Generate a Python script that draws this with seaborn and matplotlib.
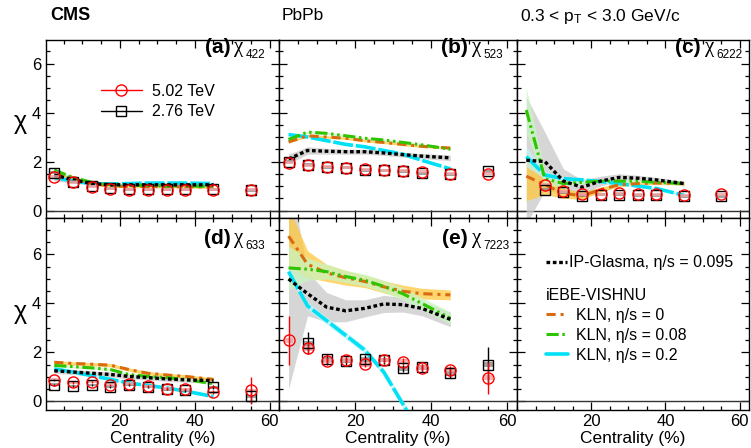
import numpy as np
import pandas as pd
import matplotlib
matplotlib.use("Agg")
import matplotlib.pyplot as plt
from matplotlib.lines import Line2D
from matplotlib.ticker import MultipleLocator, FixedLocator
import seaborn as sns

sns.set_style("ticks")
plt.rcParams["font.family"] = ["Liberation Sans", "DejaVu Sans"]
plt.rcParams["mathtext.fontset"] = "custom"
plt.rcParams["mathtext.rm"] = "Liberation Sans"
plt.rcParams["mathtext.it"] = "Liberation Sans:italic"
plt.rcParams["mathtext.bf"] = "Liberation Sans:bold"
plt.rcParams["text.color"] = "black"
plt.rcParams["axes.labelcolor"] = "black"
plt.rcParams["legend.labelcolor"] = "black"

# ---------------- data ----------------
cent = [2.5, 7.5, 12.5, 17.5, 22.5, 27.5, 32.5, 37.5, 45, 55]
cent_c = [7.5, 12.5, 17.5, 22.5, 27.5, 32.5, 37.5, 45, 55]
cent_model = [2.5, 7.5, 12.5, 17.5, 22.5, 27.5, 32.5, 37.5, 45]

# (a) chi_422
a_502 = [1.37, 1.15, 0.97, 0.88, 0.85, 0.85, 0.85, 0.85, 0.85, 0.85]
a_276 = [1.55, 1.18, 1.0, 0.9, 0.87, 0.87, 0.87, 0.87, 0.86, 0.83]
a_ip = [1.45, 1.25, 1.1, 1.05, 1.05, 1.05, 1.05, 1.05, 1.05]
a_ip_band = [0.25, 0.12, 0.06, 0.04, 0.04, 0.04, 0.04, 0.04, 0.04]
a_kln0 = [1.55, 1.3, 1.1, 1.0, 0.98, 0.98, 0.97, 0.97, 0.95]
a_kln008 = [1.65, 1.35, 1.15, 1.05, 1.03, 1.02, 1.0, 1.0, 0.98]
a_kln02 = [1.35, 1.2, 1.1, 1.08, 1.1, 1.12, 1.12, 1.12, 1.1]

# (b) chi_523
b_502 = [1.95, 1.85, 1.78, 1.75, 1.68, 1.65, 1.63, 1.58, 1.5, 1.5]
b_276 = [2.0, 1.86, 1.77, 1.75, 1.65, 1.65, 1.6, 1.52, 1.47, 1.6]
b_ip = [2.1, 2.45, 2.42, 2.4, 2.4, 2.35, 2.28, 2.22, 2.15]
b_ip_band = [0.2, 0.15, 0.12, 0.1, 0.1, 0.1, 0.1, 0.1, 0.12]
b_kln0 = [2.8, 3.05, 3.0, 2.95, 2.85, 2.78, 2.7, 2.62, 2.55]
b_kln008 = [2.9, 3.2, 3.15, 3.05, 2.95, 2.88, 2.78, 2.68, 2.5]
b_kln02 = [3.1, 3.0, 2.85, 2.7, 2.6, 2.45, 2.3, 2.05, 1.7]

# (c) chi_6222
c_502 = [1.05, 0.78, 0.67, 0.67, 0.7, 0.67, 0.67, 0.63, 0.67]
c_276 = [0.85, 0.75, 0.6, 0.65, 0.65, 0.62, 0.62, 0.58, 0.58]
c_ip = [2.05, 2.0, 1.2, 0.95, 1.2, 1.35, 1.32, 1.25, 1.1]
c_ip_band = [2.6, 1.2, 0.5, 0.3, 0.2, 0.15, 0.12, 0.1, 0.1]
c_kln0 = [1.4, 1.05, 0.7, 0.6, 0.85, 1.05, 1.1, 1.12, 1.1]
c_kln0_band = [1.0, 0.4, 0.2, 0.15, 0.1, 0.08, 0.06, 0.06, 0.06]
c_kln008 = [4.1, 1.3, 1.1, 1.15, 1.2, 1.2, 1.2, 1.15, 1.1]
c_kln008_band = [0.9, 0.3, 0.1, 0.08, 0.06, 0.06, 0.06, 0.06, 0.06]
c_kln02 = [2.2, 1.45, 1.3, 1.25, 1.18, 1.1, 1.0, 0.9, 0.62]
c_kln02_band = [0.4, 0.15, 0.05, 0.05, 0.05, 0.05, 0.05, 0.05, 0.05]

# (d) chi_633
d_502 = [0.88, 0.78, 0.8, 0.68, 0.72, 0.62, 0.52, 0.5, 0.37, 0.45]
d_276 = [0.68, 0.63, 0.67, 0.6, 0.67, 0.6, 0.5, 0.45, 0.58, 0.22]
d_502_err = [0.05, 0.05, 0.05, 0.05, 0.05, 0.05, 0.05, 0.05, 0.08, 0.55]
d_276_err = [0.05, 0.05, 0.05, 0.05, 0.05, 0.05, 0.05, 0.05, 0.08, 0.3]
d_ip = [1.25, 1.2, 1.15, 1.1, 1.02, 0.97, 0.92, 0.88, 0.85]
d_kln0 = [1.6, 1.55, 1.52, 1.48, 1.3, 1.15, 1.08, 1.02, 0.9]
d_kln008 = [1.47, 1.42, 1.37, 1.3, 1.1, 1.02, 0.97, 0.9, 0.72]
d_kln02 = [1.33, 1.2, 1.05, 0.9, 0.75, 0.65, 0.55, 0.42, 0.2]

# (e) chi_7223
e_502 = [2.5, 2.17, 1.65, 1.69, 1.51, 1.69, 1.62, 1.38, 1.29, 0.97]
e_276 = [np.nan, 2.37, 1.73, 1.65, 1.73, 1.69, 1.35, 1.39, 1.15, 1.49]
e_502_err = [1.0, 0.2, 0.15, 0.12, 0.12, 0.12, 0.15, 0.15, 0.15, 0.65]
e_276_err = [0.0, 0.45, 0.2, 0.15, 0.15, 0.15, 0.15, 0.15, 0.2, 0.75]
e_ip = [5.0, 4.4, 3.85, 3.7, 3.8, 3.98, 3.95, 3.8, 3.35]
e_ip_band = [4.5, 0.9, 0.6, 0.45, 0.35, 0.35, 0.3, 0.3, 0.3]
e_kln0 = [6.75, 5.6, 5.25, 5.05, 4.9, 4.68, 4.5, 4.4, 4.35]
e_kln0_band = [1.2, 0.55, 0.35, 0.3, 0.25, 0.25, 0.25, 0.22, 0.2]
e_kln008 = [5.45, 5.4, 5.3, 5.1, 4.95, 4.7, 4.4, 4.0, 3.4]
e_kln008_band = [0.9, 0.45, 0.3, 0.25, 0.25, 0.25, 0.25, 0.25, 0.25]
e_kln02 = [5.3, 3.9, 3.3, 2.7, 2.1, 1.2, -0.1, -1.4, -3.2]
e_kln02_band = [0.15, 0.15, 0.15, 0.15, 0.15, 0.15, 0.15, 0.15, 0.15]

panel_labels = ["(a)", "(b)", "(c)", "(d)", "(e)"]
panel_sub = ["422", "523", "6222", "633", "7223"]
sys_half = [0.06, 0.06, 0.06, 0.06, 0.1]

# ---------------- styles ----------------
C_IP = "black"
C_K0 = "#D86A10"
C_K08 = "#2FC400"
C_K02 = "#00E1F5"
B_IP = "#C9C9C9"
B_K0 = "#FFC83C"
B_K08 = "#C8F5C0"
B_K02 = "#BDF4FB"
LS_IP = (0, (1.1, 0.8))
LS_K0 = (0, (3.0, 1.6, 1.0, 1.6))
LS_K08 = (0, (4.0, 1.2, 0.8, 1.2, 0.8, 1.2))
LS_K02 = (0, (5.5, 0.8))

fig = plt.figure(figsize=(7.51, 4.48), dpi=100)
W, H = 751.0, 448.0
cols = [(46, 279), (279, 517), (517, 749)]
rows = [(40, 218), (218, 409.5)]
ylims = [(-0.306, 6.96), (-0.33, 7.49)]
xlims = [(0.3, 62.5), (0.0, 62.5), (0.0, 62.5)]

axes = {}
for r, (yt, yb) in enumerate(rows):
    for c, (xl, xr) in enumerate(cols):
        ax = fig.add_axes([xl / W, 1 - yb / H, (xr - xl) / W, (yb - yt) / H])
        ax.set_xlim(*xlims[c])
        ax.set_ylim(*ylims[r])
        ax.xaxis.set_major_locator(FixedLocator([20, 40, 60]))
        ax.xaxis.set_minor_locator(MultipleLocator(5))
        ax.yaxis.set_major_locator(FixedLocator([0, 2, 4, 6]))
        ax.yaxis.set_minor_locator(MultipleLocator(0.5))
        ax.tick_params(which="both", direction="in", top=True, right=True,
                       labelsize=12, width=0.9, colors="black")
        ax.tick_params(which="major", length=6)
        ax.tick_params(which="minor", length=3)
        for s in ax.spines.values():
            s.set_linewidth(1.0)
            s.set_color("black")
        ax.axhline(0, color="#333333", lw=1.0, zorder=1)
        if c != 0:
            ax.tick_params(labelleft=False)
        if r == 0:
            ax.tick_params(labelbottom=False)
        axes[(r, c)] = ax

panel_axes = [axes[(0, 0)], axes[(0, 1)], axes[(0, 2)], axes[(1, 0)], axes[(1, 1)]]


def band(ax, x, y, w, color, z):
    y = np.asarray(y); w = np.asarray(w)
    ax.fill_between(x, y - w, y + w, color=color, lw=0, alpha=0.75, zorder=z)


def model(ax, x, y, color, ls, lw, z):
    sns.lineplot(x=x, y=y, ax=ax, color=color, linestyle=ls, lw=lw, zorder=z)


def data(ax, x, y, err, sysh, color, marker, ms, box_color):
    y = np.asarray(y, dtype=float)
    ax.bar(x, 2 * sysh, bottom=y - sysh, width=2.6, color=box_color, lw=0, zorder=5, alpha=0.8)
    ax.errorbar(x, y, yerr=err, fmt=marker, mfc="none", mec=color, ecolor=color,
                ms=ms, mew=1.0, elinewidth=1.0, capsize=0, zorder=7)


small = [0.0] * 10
sets = [
    (a_502, a_276, small, small, a_ip, a_ip_band, a_kln0, [0.05] * 9, a_kln008, [0.04] * 9, a_kln02, [0.03] * 9, cent),
    (b_502, b_276, small, small, b_ip, b_ip_band, b_kln0, [0.05] * 9, b_kln008, [0.04] * 9, b_kln02, [0.03] * 9, cent),
    (c_502, c_276, small[:9], small[:9], c_ip, c_ip_band, c_kln0, c_kln0_band, c_kln008, c_kln008_band, c_kln02, c_kln02_band, cent_c),
    (d_502, d_276, d_502_err, d_276_err, d_ip, [0.1] * 9, d_kln0, [0.07] * 9, d_kln008, [0.05] * 9, d_kln02, [0.04] * 9, cent),
    (e_502, e_276, e_502_err, e_276_err, e_ip, e_ip_band, e_kln0, e_kln0_band, e_kln008, e_kln008_band, e_kln02, e_kln02_band, cent),
]

for i, ax in enumerate(panel_axes):
    r502, r276, er502, er276, ip, ipb, k0, k0b, k08, k08b, k02, k02b, xc = sets[i]
    band(ax, cent_model, ip, ipb, B_IP, 2)
    band(ax, cent_model, k0, k0b, B_K0, 2.1)
    band(ax, cent_model, k08, k08b, B_K08, 2.2)
    band(ax, cent_model, k02, k02b, B_K02, 2.3)
    model(ax, cent_model, k02, C_K02, LS_K02, 2.6, 3)
    model(ax, cent_model, k0, C_K0, LS_K0, 2.2, 3.1)
    model(ax, cent_model, k08, C_K08, LS_K08, 2.2, 3.2)
    model(ax, cent_model, ip, C_IP, LS_IP, 2.4, 3.3)
    data(ax, xc, r276, er276, sys_half[i], "black", "s", 6.5, "#8C8C8C")
    data(ax, xc, r502, er502, sys_half[i], "red", "o", 8.0, "#F4A0A0")
    ax.text(49.5, 6.67, panel_labels[i], ha="right", va="center", fontsize=15, fontweight="bold")
    ax.text(50.6, 6.67, "χ", ha="left", va="center", fontsize=15, family=["Liberation Serif", "DejaVu Serif"])
    ax.text(53.6, 6.36, panel_sub[i], ha="left", va="center", fontsize=8.5)

# legend (a)
hd = [Line2D([], [], color="red", marker="o", mfc="none", mec="red", ms=8, lw=1.0),
      Line2D([], [], color="black", marker="s", mfc="none", mec="black", ms=6.5, lw=1.0)]
axes[(0, 0)].legend(hd, ["5.02 TeV", "2.76 TeV"], loc="upper left", bbox_to_anchor=(0.2, 0.80),
                    frameon=False, fontsize=11.5, handlelength=2.6, handletextpad=0.6,
                    labelspacing=0.35, borderpad=0)

# legend (f)
axf = axes[(1, 2)]
h_ip = [Line2D([], [], color=C_IP, ls=LS_IP, lw=2.4)]
lg1 = axf.legend(h_ip, ["IP-Glasma, η/s = 0.095"], loc="upper left", bbox_to_anchor=(0.09, 0.847),
                 frameon=False, fontsize=11.5, handlelength=1.3, handletextpad=0.15, borderpad=0)
axf.add_artist(lg1)
h_k = [Line2D([], [], color=C_K0, ls=LS_K0, lw=2.2),
       Line2D([], [], color=C_K08, ls=LS_K08, lw=2.2),
       Line2D([], [], color=C_K02, ls="-", lw=2.6)]
lg2 = axf.legend(h_k, ["KLN, η/s = 0", "KLN, η/s = 0.08", "KLN, η/s = 0.2"], title="iEBE-VISHNU",
                 loc="upper left", bbox_to_anchor=(0.09, 0.675), frameon=False, fontsize=11.5,
                 title_fontsize=11.5, handlelength=1.4, handletextpad=0.5, labelspacing=0.3,
                 borderpad=0, alignment="left")

# axis labels & header
fig.text(20 / W, 1 - 122 / H, "χ", fontsize=18, ha="center", va="center")
fig.text(20 / W, 1 - 312 / H, "χ", fontsize=18, ha="center", va="center")
for (xl, xr) in cols:
    fig.text((xl + xr) / 2 / W, 1 - 438 / H, "Centrality (%)", fontsize=12.5, ha="center", va="center")
fig.text(50 / W, 1 - 16 / H, "CMS", fontsize=13, fontweight="bold", ha="left", va="center")
fig.text(282 / W, 1 - 16 / H, "PbPb", fontsize=12.5, ha="left", va="center")
fig.text(520 / W, 1 - 16 / H, r"0.3 < p$_\mathrm{T}$ < 3.0 GeV/c", fontsize=12.5, ha="left", va="center")

fig.savefig("out.png", dpi=100)
